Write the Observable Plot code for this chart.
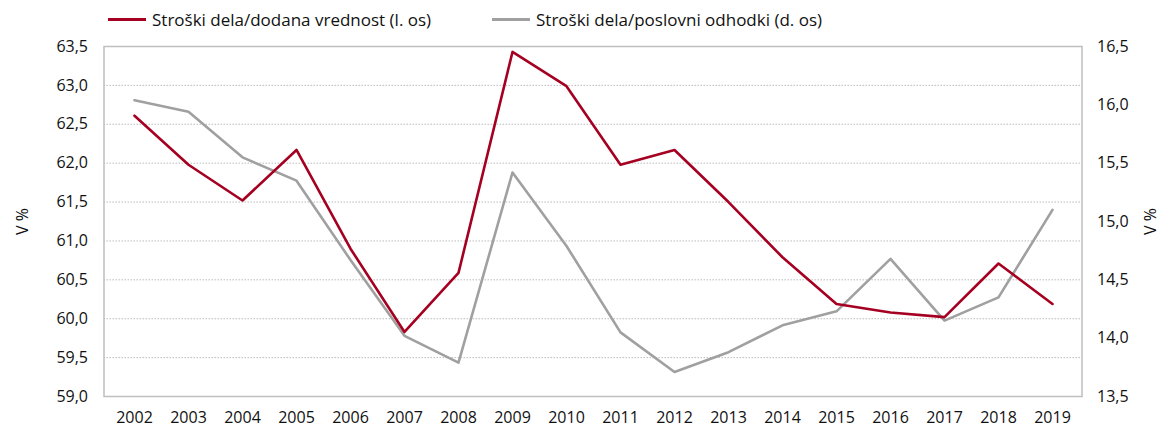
<!DOCTYPE html>
<html><head><meta charset="utf-8">
<script src="https://cdn.jsdelivr.net/npm/d3@7"></script>
<script src="https://cdn.jsdelivr.net/npm/@observablehq/plot@0.6"></script>
<style>
body{margin:0;background:#fff;font-family:"Open Sans",sans-serif;}
#legend{height:30px;position:relative;font-size:17px;color:#111;}
.item{position:absolute;top:8px;display:flex;align-items:center;line-height:23px;}
.sw{display:inline-block;width:38px;height:3px;margin-right:6px;}
</style></head><body>
<div id="legend"></div>
<div id="chart"></div>
<script>
const years = ["2002","2003","2004","2005","2006","2007","2008","2009","2010","2011","2012","2013","2014","2015","2016","2017","2018","2019"];
const laborValueAdded = [62.61,61.98,61.52,62.17,60.90,59.83,60.59,63.43,62.99,61.98,62.17,61.50,60.79,60.19,60.08,60.02,60.71,60.19];
const laborOpExpenses = [16.04,15.94,15.55,15.35,14.67,14.02,13.79,15.42,14.79,14.05,13.71,13.88,14.11,14.23,14.68,14.15,14.35,15.10];
const seriesNames = ["Stroški dela/dodana vrednost (l. os)","Stroški dela/poslovni odhodki (d. os)"];
const leftTicks = [59.0,59.5,60.0,60.5,61.0,61.5,62.0,62.5,63.0,63.5];
const rightTicks = [13.5,14.0,14.5,15.0,15.5,16.0,16.5];
const colors = ["#a50021","#a0a0a0"];

const L0=59, L1=63.5, R0=13.5, R1=16.5;
const toLeft = v => L0 + (v-R0)*(L1-L0)/(R1-R0);
const toRight = v => R0 + (v-L0)*(R1-R0)/(L1-L0);
const fmt = v => v.toFixed(1).replace(".", ",");

const red = years.map((y,i)=>({year:y, v:laborValueAdded[i]}));
const gray = years.map((y,i)=>({year:y, v:toLeft(laborOpExpenses[i])}));

const lg = document.getElementById("legend");
[[108,0],[492,1]].forEach(([x,i])=>{
  const d=document.createElement("div");d.className="item";d.style.left=x+"px";
  d.innerHTML=`<span class="sw" style="background:${colors[i]}"></span><span>${seriesNames[i]}</span>`;
  lg.appendChild(d);
});

const chart = Plot.plot({
  width:1164, height:397,
  marginTop:16, marginBottom:31, marginLeft:103.5, marginRight:82.5,
  style:{fontFamily:"Open Sans, sans-serif", fontSize:"16px", color:"#111", background:"#fff", overflow:"visible"},
  x:{type:"point", domain:years, padding:0.5},
  y:{domain:[L0,L1]},
  marks:[
    Plot.ruleY(leftTicks.slice(1,-1), {stroke:"#bbb", strokeDasharray:"1.5,1.5", strokeWidth:1}),
    Plot.frame({stroke:"#bfbfbf", strokeWidth:1.5}),
    Plot.axisX({tickSize:0, tickPadding:15, label:null, fontSize:16}),
    Plot.axisY(leftTicks, {anchor:"left", tickSize:0, tickPadding:16, tickFormat:fmt, label:"V %", labelAnchor:"center", labelArrow:false, labelOffset:87, fontSize:16}),
    Plot.axisY(rightTicks.map(toLeft), {anchor:"right", tickSize:0, tickPadding:15, tickFormat:d=>fmt(toRight(d)), label:"V %", labelAnchor:"center", labelArrow:false, labelOffset:74, fontSize:16}),
    Plot.line(gray, {x:"year", y:"v", stroke:colors[1], strokeWidth:2.6}),
    Plot.line(red, {x:"year", y:"v", stroke:colors[0], strokeWidth:2.6})
  ]
});
document.getElementById("chart").appendChild(chart);
</script>
</body></html>
